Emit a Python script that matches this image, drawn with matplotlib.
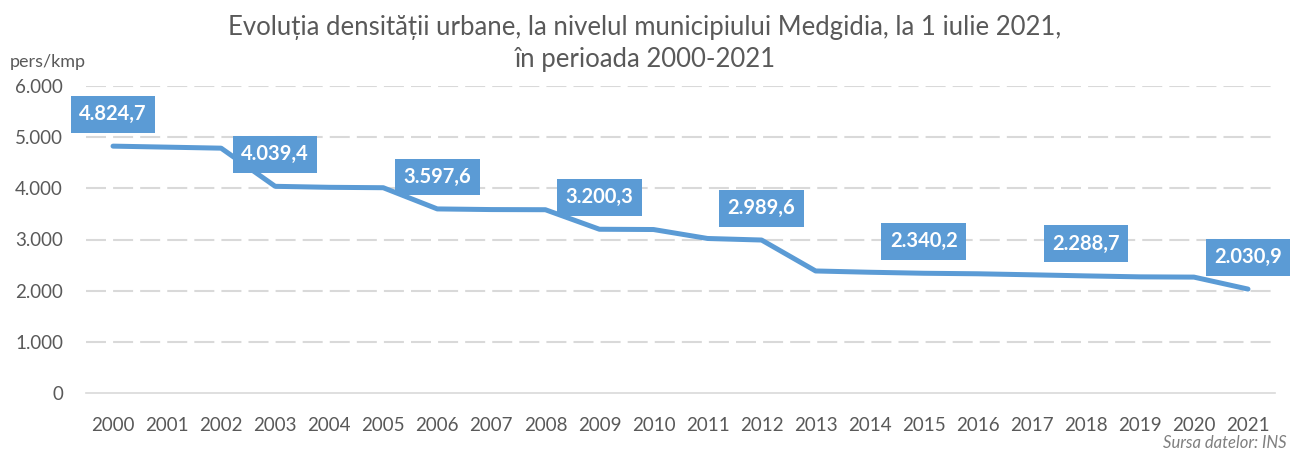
import matplotlib.pyplot as plt

plt.rcParams["font.family"] = ["Lato", "DejaVu Sans"]

years = list(range(2000, 2022))
density = [4824.7, 4805, 4785, 4039.4, 4020, 4012, 3597.6, 3585, 3582, 3200.3, 3195,
           3020, 2989.6, 2385, 2360, 2340.2, 2330, 2310, 2288.7, 2270, 2265, 2030.9]
labelled = [2000, 2003, 2006, 2009, 2012, 2015, 2018, 2021]
yticks = [0, 1000, 2000, 3000, 4000, 5000, 6000]
ytick_labels = ["0", "1.000", "2.000", "3.000", "4.000", "5.000", "6.000"]

blue = "#5B9BD5"
grey = "#595959"

fig = plt.figure(figsize=(12.9, 4.53), dpi=100)
ax = fig.add_axes([86 / 1290, 60 / 453, 1189 / 1290, 307 / 453])

ax.plot(years, density, color=blue, linewidth=3.6, solid_joinstyle="round",
        solid_capstyle="round", zorder=3)

# etichete de valoare la fiecare 3 ani
for yr in labelled:
    v = density[years.index(yr)]
    txt = f"{v:,.1f}".replace(",", " ").replace(".", ",").replace(" ", ".")
    ax.annotate(txt, (yr, v), xytext=(0, 23), textcoords="offset points",
                ha="center", va="center", color="white", fontsize=14.5, fontweight="bold",
                bbox=dict(boxstyle="square,pad=0.42", fc=blue, ec="none"), zorder=4)

ax.set_xlim(1999.5, 2021.5)
ax.set_ylim(0, 6000)
ax.set_xticks(years)
ax.set_xticklabels([str(y) for y in years], fontsize=13.5, color=grey)
ax.set_yticks(yticks)
ax.set_yticklabels(ytick_labels, fontsize=13.5, color=grey)
ax.tick_params(length=0)
ax.tick_params(axis="x", pad=17)
ax.tick_params(axis="y", pad=16.5)
for yv in yticks[1:]:
    ax.axhline(yv, color="#D9D9D9", linewidth=1.5, linestyle=(0, (9.6, 3.4)), zorder=1)
for s in ["top", "right", "left"]:
    ax.spines[s].set_visible(False)
ax.spines["bottom"].set_color("#D9D9D9")
ax.spines["bottom"].set_linewidth(1.2)

fig.text(0.5, 1 - 28 / 453, "Evoluția densității urbane, la nivelul municipiului Medgidia, la 1 iulie 2021,",
         ha="center", va="center", fontsize=18.5, color=grey)
fig.text(0.5, 1 - 59 / 453, "în perioada 2000-2021", ha="center", va="center",
         fontsize=18.5, color=grey)
fig.text(10 / 1290, 1 - 62 / 453, "pers/kmp", ha="left", va="center", fontsize=13, color=grey)
fig.text(1287 / 1290, 1 - 443 / 453, "Sursa datelor: INS", ha="right", va="center",
         fontsize=12, color="#7F7F7F", style="italic")

fig.savefig("out.png", dpi=100)
